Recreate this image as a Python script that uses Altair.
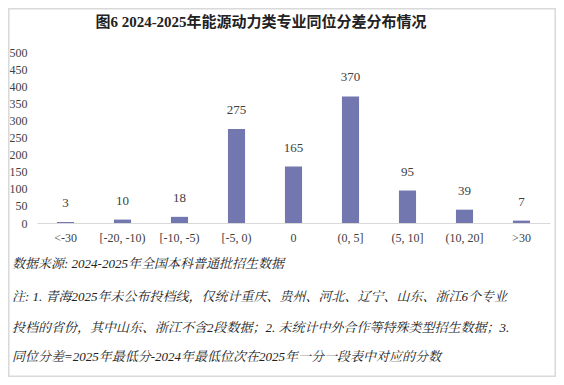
import altair as alt
import pandas as pd

categories = ["<-30", "[-20, -10)", "[-10, -5)", "[-5, 0)", "0", "(0, 5]", "(5, 10]", "(10, 20]", ">30"]
counts = [3, 10, 18, 275, 165, 370, 95, 39, 7]
y_ticks = [0, 50, 100, 150, 200, 250, 300, 350, 400, 450, 500]
title_text = "图6  2024-2025年能源动力类专业同位分差分布情况"
notes = [
    "数据来源:  2024-2025年全国本科普通批招生数据",
    "注:  1. 青海2025年未公布投档线，仅统计重庆、贵州、河北、辽宁、山东、浙江6个专业",
    "投档的省份，其中山东、浙江不含2段数据；2. 未统计中外合作等特殊类型招生数据；3.",
    "同位分差=2025年最低分-2024年最低位次在2025年一分一段表中对应的分数",
]

FONT = "Liberation Serif, Noto Serif CJK SC, Noto Sans CJK SC"
TXT = "#404040"

df = pd.DataFrame({"cat": categories, "n": counts})

x = alt.X("cat:N", sort=categories,
          scale=alt.Scale(paddingInner=0.70, paddingOuter=0.35),
          axis=alt.Axis(title=None, labelAngle=0, ticks=False, domainColor="#d9d9d9",
                        labelPadding=9, labelFontSize=12, labelColor=TXT, labelFont=FONT,
                        labelOverlap=False))
y = alt.Y("n:Q", scale=alt.Scale(domain=[0, 500], nice=False),
          axis=alt.Axis(title=None, values=y_ticks, grid=False, domain=False, ticks=False,
                        labelPadding=10, labelFontSize=12, labelColor=TXT, labelFont=FONT,
                        labelOverlap=False, labelFlush=False))

bars = alt.Chart(df).mark_bar(color="#7377AF").encode(x=x, y=y)
labels = alt.Chart(df).mark_text(baseline="bottom", dy=-12, fontSize=13, font=FONT, color=TXT).encode(
    x=x, y=y, text="n:Q")

title = alt.Chart(pd.DataFrame({"t": [title_text]})).mark_text(
    fontSize=15, fontWeight="bold", font="Liberation Serif, Noto Sans CJK SC", color="#222222",
    align="center", baseline="middle").encode(x=alt.value(224), y=alt.value(-30), text="t:N")

note_y = [212, 245, 276, 305]
note_layers = []
for i, t in enumerate(notes):
    note_layers.append(
        alt.Chart(pd.DataFrame({"t": [t]})).mark_text(
            fontSize=13, fontStyle="italic", font=FONT, color="#222222",
            align="left", baseline="middle").encode(x=alt.value(-25), y=alt.value(note_y[i]), text="t:N"))

border = alt.Chart(pd.DataFrame({"a": [0]})).mark_rect(
    fill=None, stroke="#d9d9d9", strokeWidth=1.5).encode(
    x=alt.value(-28.2), x2=alt.value(518.2), y=alt.value(-43.2), y2=alt.value(324.2))

chart = alt.layer(bars, labels, border, title, *note_layers).properties(
    width=513, height=171,
    autosize=alt.AutoSizeParams(type="none"),
    padding={"left": 29, "top": 44, "right": 6, "bottom": 154},
).configure_view(stroke=None)

chart.save("out.html", embed_options={"renderer": "svg", "actions": False})
